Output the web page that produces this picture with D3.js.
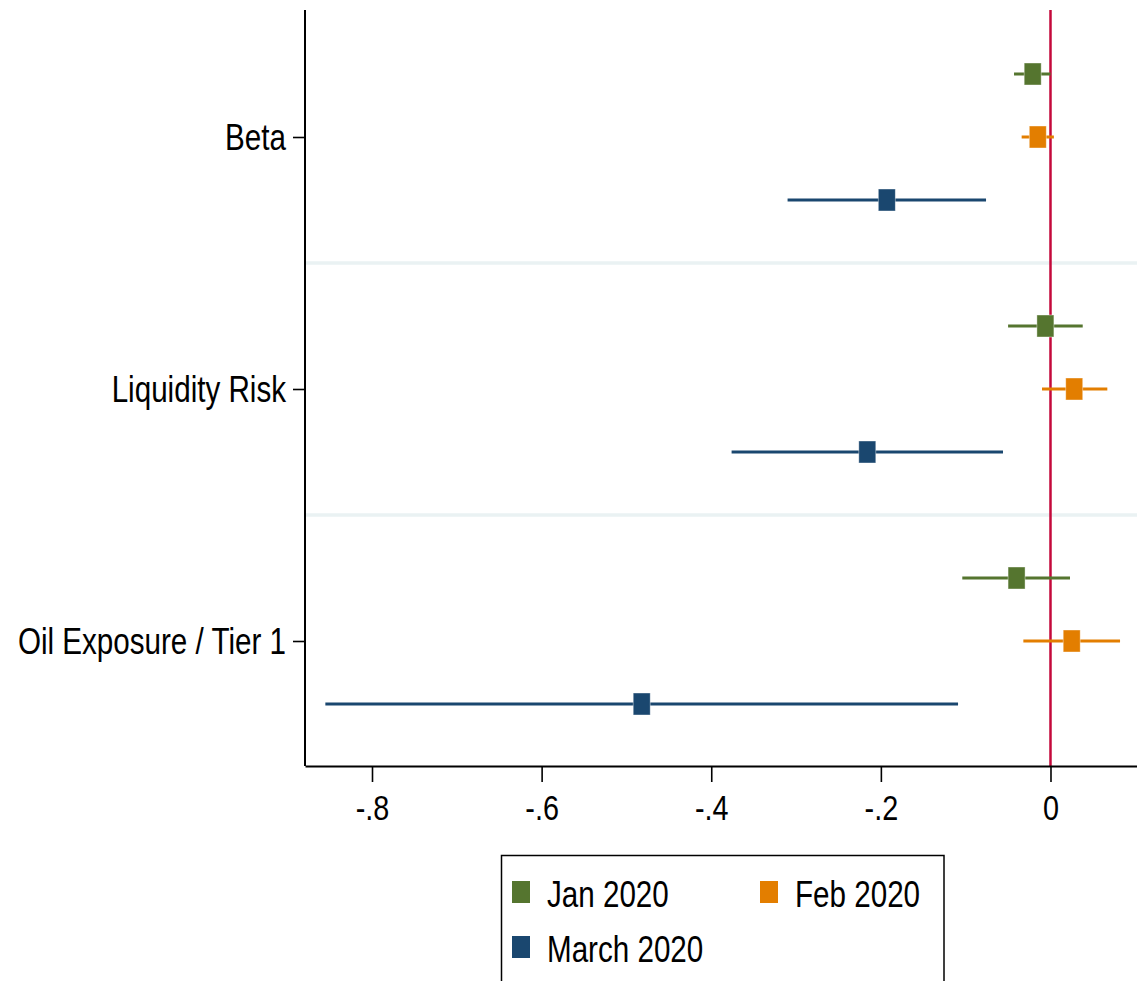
<!DOCTYPE html>
<html>
<head>
<meta charset="utf-8">
<script src="https://cdn.jsdelivr.net/npm/d3@7"></script>
<style>
  html, body { margin: 0; padding: 0; background: #fff; }
  svg { display: block; }
  text { font-family: "Liberation Sans", Arial, sans-serif; fill: #000; }
</style>
</head>
<body>
<svg id="chart" width="1137" height="981"></svg>
<script>
// ---- Data ----
const categories = ["Beta", "Liquidity Risk", "Oil Exposure / Tier 1"];
const seriesNames = ["Jan 2020", "Feb 2020", "March 2020"];
const janEst = [-0.021, -0.006, -0.040];
const janLo  = [-0.043, -0.050, -0.104];
const janHi  = [ 0.000,  0.038,  0.023];
const febEst = [-0.015,  0.028,  0.025];
const febLo  = [-0.034, -0.010, -0.032];
const febHi  = [ 0.004,  0.067,  0.082];
const marEst = [-0.193, -0.216, -0.482];
const marLo  = [-0.310, -0.376, -0.855];
const marHi  = [-0.076, -0.056, -0.109];
const xTickValues = [-0.8, -0.6, -0.4, -0.2, 0];
const xTickLabels = ["-.8", "-.6", "-.4", "-.2", "0"];

// ---- Styles ----
const colors = ["#55752f", "#e37e00", "#1a476f"];
const SX = 0.8; // horizontal condensation of text
const svg = d3.select("#chart");

const x = d3.scaleLinear().domain([-0.879, 0.102]).range([305, 1137]);
const y = d3.scaleLinear().domain([0, 12]).range([11, 767]);

const seriesData = [
  {name: seriesNames[0], est: janEst, lo: janLo, hi: janHi, off: -1},
  {name: seriesNames[1], est: febEst, lo: febLo, hi: febHi, off: 0},
  {name: seriesNames[2], est: marEst, lo: marLo, hi: marHi, off: 1}
];
const catCenter = i => 4 * i + 2;

// separators
svg.append("g").selectAll("line").data([4, 8]).join("line")
  .attr("x1", x.range()[0]).attr("x2", x.range()[1])
  .attr("y1", d => y(d)).attr("y2", d => y(d))
  .attr("stroke", "#eaf2f3").attr("stroke-width", 3.5);

// zero reference line
svg.append("line")
  .attr("x1", x(0)).attr("x2", x(0))
  .attr("y1", 10).attr("y2", y(12))
  .attr("stroke", "#c4093b").attr("stroke-width", 2.5);

// series
seriesData.forEach((s, si) => {
  const g = svg.append("g");
  const pts = categories.map((c, i) => ({est: s.est[i], lo: s.lo[i], hi: s.hi[i], yy: catCenter(i) + s.off}));
  g.selectAll("line").data(pts).join("line")
    .attr("x1", d => x(d.lo)).attr("x2", d => x(d.hi))
    .attr("y1", d => y(d.yy)).attr("y2", d => y(d.yy))
    .attr("stroke", colors[si]).attr("stroke-width", 3.2);
  g.selectAll("rect").data(pts).join("rect")
    .attr("x", d => x(d.est) - 8.5).attr("y", d => y(d.yy) - 11)
    .attr("width", 17).attr("height", 22)
    .attr("fill", colors[si])
    .attr("stroke", "#ffffff").attr("stroke-opacity", 0.5).attr("stroke-width", 0.8);
});

// x axis
const xAxis = d3.axisBottom(x).tickValues(xTickValues)
  .tickFormat((d, i) => xTickLabels[i]).tickSize(16).tickSizeOuter(0).tickPadding(12);
const gx = svg.append("g").attr("transform", "translate(0,766)").call(xAxis);
gx.attr("font-family", null).attr("font-size", null);
gx.select(".domain").attr("stroke", "#000").attr("stroke-width", 2);
gx.selectAll(".tick line").attr("stroke", "#000").attr("stroke-width", 1.6);
gx.selectAll(".tick text").attr("font-size", 36).attr("fill", "#000")
  .attr("transform", `scale(${SX},1)`);

// y axis
const yAxis = d3.axisLeft(y).tickValues(categories.map((c, i) => catCenter(i)))
  .tickFormat((d, i) => categories[i]).tickSize(12).tickSizeOuter(0).tickPadding(8);
const gy = svg.append("g").attr("transform", "translate(305,0)").call(yAxis);
gy.attr("font-family", null).attr("font-size", null);
gy.select(".domain").attr("d", "M0,10V766").attr("stroke", "#000").attr("stroke-width", 2);
gy.selectAll(".tick line").attr("stroke", "#000").attr("stroke-width", 1.6);
gy.selectAll(".tick text").attr("font-size", 37).attr("fill", "#000").attr("dy", "0.35em")
  .attr("x", 0).attr("transform", `translate(-19,0) scale(${SX},1)`);

// legend
const lg = svg.append("g");
lg.append("rect").attr("x", 501.5).attr("y", 855.5).attr("width", 442.5).attr("height", 200)
  .attr("fill", "#fff").attr("stroke", "#000").attr("stroke-width", 1.5);
const legendPos = [[512, 881], [760, 881], [512, 936]];
seriesNames.forEach((n, i) => {
  const [lx, ly] = legendPos[i];
  lg.append("rect").attr("x", lx).attr("y", ly).attr("width", 18).attr("height", 22).attr("fill", colors[i]);
  lg.append("text").attr("transform", `translate(${lx + 35},${ly + 26}) scale(${SX},1)`)
    .attr("font-size", 37).text(n);
});
</script>
</body>
</html>
